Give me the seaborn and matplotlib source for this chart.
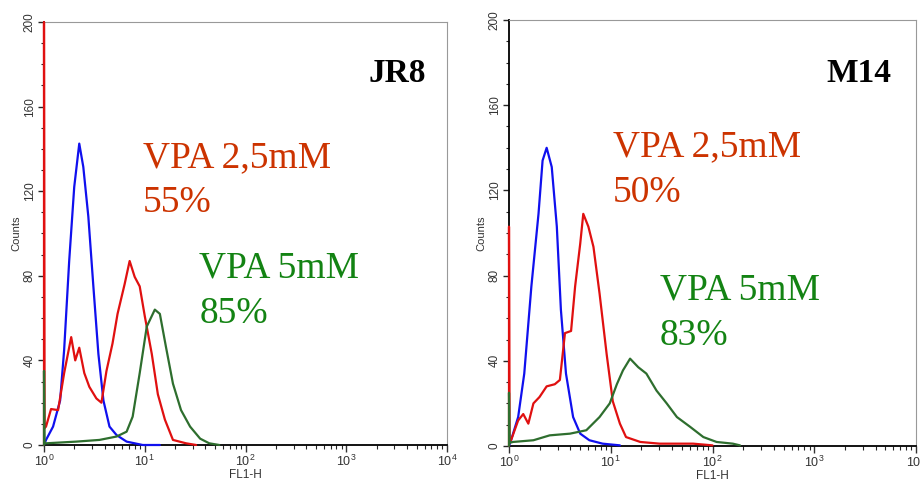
import numpy as np
import pandas as pd
import matplotlib
matplotlib.use("Agg")
import matplotlib.pyplot as plt
import seaborn as sns
from matplotlib.ticker import LogLocator, MultipleLocator, NullFormatter

sns.set_theme(style="white")
plt.rcParams['font.family'] = ['Liberation Sans', 'DejaVu Sans']

# ---------------- data (log10 of FL1-H, counts) ----------------
# JR8 panel
jr8_blue_log = [0.0, 0.02, 0.09, 0.16, 0.20, 0.25, 0.30, 0.35, 0.39, 0.44, 0.49, 0.54, 0.59, 0.65, 0.72, 0.82, 0.98, 1.15]
jr8_blue_cnt = [0, 2.4, 8.7, 21, 45, 87, 122, 142.5, 131.5, 108, 75, 43, 21, 8.7, 4.7, 1.6, 0, 0]

jr8_red_log = [0.0, 0.0, 0.005, 0.02, 0.07, 0.14, 0.20, 0.27, 0.31, 0.35, 0.40, 0.45, 0.52, 0.57, 0.62, 0.68,
               0.73, 0.80, 0.85, 0.90, 0.95, 1.00, 1.07, 1.13, 1.20, 1.28, 1.41, 1.51]
jr8_red_cnt = [0, 200, 8, 8.7, 17, 16.5, 34, 51, 40, 46, 34, 27.5, 22, 20, 35, 48,
               62, 76, 87, 79.5, 75, 61, 43, 24, 12, 2.4, 0.8, 0]

jr8_green_log = [0.0, 0.0, 0.005, 0.02, 0.32, 0.55, 0.72, 0.82, 0.88, 0.95, 1.02, 1.10, 1.15, 1.21, 1.28, 1.36,
                 1.45, 1.55, 1.64, 1.74]
jr8_green_cnt = [0, 35, 1, 0.8, 1.6, 2.4, 4, 6.3, 13.4, 34, 56, 64, 62, 46.5, 29, 16.5,
                 8.7, 3, 0.8, 0]

# M14 panel
m14_blue_log = [0.0, 0.02, 0.09, 0.15, 0.22, 0.29, 0.33, 0.37, 0.42, 0.47, 0.51, 0.56, 0.63, 0.70, 0.79, 0.92, 1.09]
m14_blue_cnt = [0, 2.7, 13.6, 34, 75, 109, 134, 140, 131, 103, 64, 34, 13.6, 5.8, 2.7, 1.1, 0.3]

m14_red_log = [0.0, 0.0, 0.005, 0.02, 0.09, 0.14, 0.19, 0.24, 0.30, 0.37, 0.45, 0.50, 0.55, 0.61, 0.65, 0.70,
               0.73, 0.78, 0.83, 0.89, 0.96, 1.02, 1.09, 1.15, 1.29, 1.48, 1.81, 2.00]
m14_red_cnt = [0, 103, 3, 2.7, 12, 15, 10.5, 20, 23, 28, 29, 31, 53, 54, 75, 95,
               109, 103, 93.5, 71.6, 43, 21, 10.5, 4.2, 1.9, 1.1, 1.1, 0.3]

m14_green_log = [0.0, 0.0, 0.005, 0.04, 0.24, 0.40, 0.60, 0.76, 0.89, 0.99, 1.06, 1.12, 1.19, 1.27, 1.35, 1.45,
                 1.55, 1.65, 1.78, 1.91, 2.04, 2.20, 2.27]
m14_green_cnt = [0, 25, 1.5, 1.9, 2.7, 5, 5.8, 7.4, 13.6, 20, 29, 35.5, 41, 37, 34, 26,
                 20, 13.6, 9, 4.2, 1.9, 1.1, 0.3]

panels = ["JR8", "M14"]
red_pct = ["55%", "50%"]
green_pct = ["85%", "83%"]
y_ticks = [0, 40, 80, 120, 160, 200]

series_colors = {"blue": "#1010ee", "red": "#e01010", "green": "#2e6e2e"}


def frame(logs, cnts, name):
    return pd.DataFrame({"FL1-H": np.power(10.0, logs), "Counts": cnts, "series": name})


data = {
    "JR8": pd.concat([frame(jr8_blue_log, jr8_blue_cnt, "blue"),
                      frame(jr8_red_log, jr8_red_cnt, "red"),
                      frame(jr8_green_log, jr8_green_cnt, "green")], ignore_index=True),
    "M14": pd.concat([frame(m14_blue_log, m14_blue_cnt, "blue"),
                      frame(m14_red_log, m14_red_cnt, "red"),
                      frame(m14_green_log, m14_green_cnt, "green")], ignore_index=True),
}

fig = plt.figure(figsize=(9.21, 4.86), dpi=100)
W, H = 921, 486
rects = [(44, 22, 447, 445), (509, 20, 916, 446)]

text_pos = {
    "JR8": dict(title=(0.948, 0.858), red=(0.246, 0.657, 0.551), green=(0.385, 0.395, 0.288)),
    "M14": dict(title=(0.939, 0.854), red=(0.256, 0.681, 0.573), green=(0.371, 0.343, 0.237)),
}

serif = ['Liberation Serif', 'DejaVu Serif']

for i, name in enumerate(panels):
    l, t, r, b = rects[i]
    ax = fig.add_axes([l / W, (H - b) / H, (r - l) / W, (b - t) / H])
    df = data[name]
    sns.lineplot(data=df, x="FL1-H", y="Counts", hue="series", palette=series_colors,
                 hue_order=["blue", "red", "green"],
                 estimator=None, sort=False, legend=False, ax=ax, linewidth=1.6,
                 clip_on=False, zorder=3)
    ax.set_xscale("log")
    ax.set_xlim(1, 1e4)
    ax.set_ylim(0, 200)
    ax.set_yticks(y_ticks)
    ax.set_yticklabels([str(v) for v in y_ticks], rotation=90, va="center", fontsize=8.5, color="#333333")
    ax.yaxis.set_minor_locator(MultipleLocator(10))
    ax.xaxis.set_major_locator(LogLocator(base=10, numticks=10))
    ax.xaxis.set_minor_locator(LogLocator(base=10, subs=np.arange(2, 10), numticks=10))
    ax.xaxis.set_minor_formatter(NullFormatter())
    ax.tick_params(axis="x", which="major", direction="out", length=5, width=1, labelsize=9,
                   colors="#333333", pad=1, bottom=True)
    ax.tick_params(axis="x", which="minor", direction="out", length=3, width=0.8, bottom=True)
    ax.tick_params(axis="y", which="major", direction="out", length=4, width=1, pad=2, left=True)
    ax.tick_params(axis="y", which="minor", direction="out", length=2, width=0.8, left=True)
    ax.set_xlabel("FL1-H", fontsize=8.5, color="#333333", labelpad=0)
    ax.set_ylabel("Counts", fontsize=8, color="#333333", labelpad=2)
    for s in ["bottom", "left"]:
        ax.spines[s].set_color("black")
        ax.spines[s].set_linewidth(1.3)
    for s in ["top", "right"]:
        ax.spines[s].set_color("#999999")
        ax.spines[s].set_linewidth(0.8)

    tp = text_pos[name]
    ax.text(tp["title"][0], tp["title"][1], name, transform=ax.transAxes, ha="right", va="baseline",
            fontsize=24, fontweight="bold", family=serif, color="black")
    ax.text(tp["red"][0], tp["red"][1], "VPA 2,5mM", transform=ax.transAxes, ha="left", va="baseline",
            fontsize=27, family=serif, color="#cc3300")
    ax.text(tp["red"][0], tp["red"][2], red_pct[i], transform=ax.transAxes, ha="left", va="baseline",
            fontsize=27, family=serif, color="#cc3300")
    ax.text(tp["green"][0], tp["green"][1], "VPA 5mM", transform=ax.transAxes, ha="left", va="baseline",
            fontsize=27, family=serif, color="#138313")
    ax.text(tp["green"][0], tp["green"][2], green_pct[i], transform=ax.transAxes, ha="left", va="baseline",
            fontsize=27, family=serif, color="#138313")

fig.savefig("out.png", dpi=100)
